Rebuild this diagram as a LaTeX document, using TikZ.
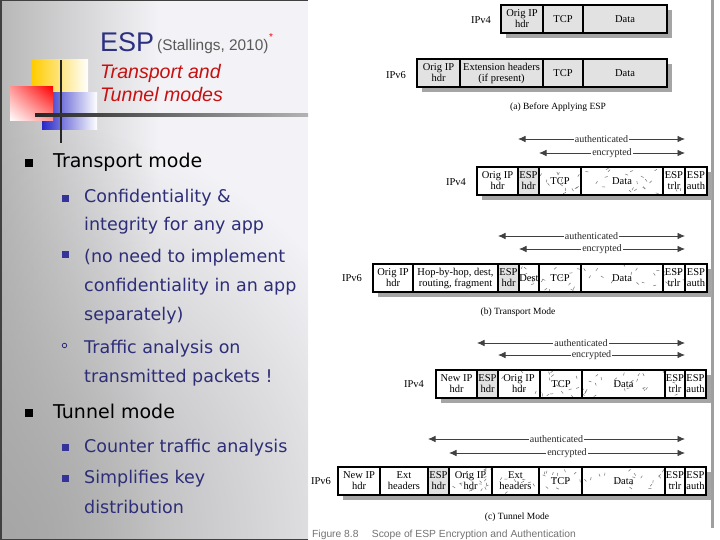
\documentclass[tikz,border=0pt]{standalone}
\usepackage{fontspec}
\setmainfont{Liberation Serif}
\newfontfamily\arialf{Liberation Sans}
\newfontfamily\bodyf{DejaVu Sans}
\usetikzlibrary{arrows.meta,fadings,shadings}

\definecolor{titleblue}{RGB}{43,48,128}
\definecolor{subred}{RGB}{200,16,16}
\definecolor{navy}{RGB}{45,45,120}
\definecolor{bullblue}{RGB}{51,51,153}
\definecolor{cellgray}{RGB}{226,226,226}
\definecolor{shadowgray}{RGB}{165,165,165}
\definecolor{panelbg}{RGB}{243,243,247}
\definecolor{decoyellow}{RGB}{255,204,0}
\definecolor{decoblue}{RGB}{40,40,200}
\definecolor{decored}{RGB}{255,0,0}

\tikzfading[name=cornerfade, inner color=transparent!0, outer color=transparent!100]

\tikzset{
 lvlone/.style={anchor=base west, inner sep=0pt, font=\bodyf\fontsize{19}{22}\selectfont, text=black},
 lvltwo/.style={anchor=base west, inner sep=0pt, font=\bodyf\fontsize{17.5}{20}\selectfont, text=navy},
 bulone/.style={fill=black, minimum size=8pt, inner sep=0pt},
 bultwo/.style={fill=bullblue, minimum size=7pt, inner sep=0pt},
 bulring/.style={draw=navy, circle, line width=0.8pt, minimum size=4.5pt, inner sep=0pt},
 cell/.style={draw=black, line width=1.9pt, inner sep=0pt, align=center, font=\fontsize{10.5}{11}\selectfont},
 iplbl/.style={font=\fontsize{10.5}{12}\selectfont, inner sep=0pt},
 capt/.style={font=\fontsize{9.5}{11}\selectfont, inner sep=0pt},
 scopearr/.style={draw=black!75, line width=0.8pt, {Latex[length=7.5pt,width=6.5pt]}-{Latex[length=7.5pt,width=6.5pt]}},
 arrlbl/.style={fill=white, inner sep=1pt, font=\fontsize{10}{11}\selectfont, text=black!85},
 stip/.style={draw=black!55, line width=0.5pt},
}

\newcommand\pcell[6]{%
  \pgfmathsetmacro\pcw{#3-#2}%
  \pgfmathsetmacro\pcx{(#2+#3)/2}%
  \pgfmathsetmacro\pcy{#4+14}%
  \node[cell,#5,minimum width=\pcw pt,minimum height=28pt] (#1) at (\pcx,\pcy) {#6};}

\newcommand\stipple[4]{%
  \begin{scope}
  \clip (#1,#3) rectangle (#2,#3+28);
  \foreach \k in {1,...,#4}{%
    \pgfmathsetmacro\stx{#1+2+rnd*(#2-#1-4)}%
    \pgfmathsetmacro\sty{#3+2+rnd*24}%
    \pgfmathsetmacro\sta{rnd*360}%
    \draw[stip] (\stx,\sty) -- ++(\sta:3);
  }
  \end{scope}}

\newcommand\rowbg[3]{%
  \fill[shadowgray] (#1+5,#3+5) rectangle (#2+5,#3+33);
  \fill[white] (#1,#3) rectangle (#2,#3+28);}

\begin{document}
\begin{tikzpicture}[x=1pt,y=-1pt]
\pgfmathsetseed{7}
\useasboundingbox (0,0) rectangle (720,540);
\fill[white] (0,0) rectangle (720,540);

% left panel background
\fill[panelbg] (0,0) rectangle (308,540);
\shade[left color=black!28, right color=panelbg] (0,0) rectangle (160,540);
\begin{scope}
  \clip (0,0) rectangle (308,540);
  \fill[black!35, path fading=cornerfade] (0,540) circle (420);
\end{scope}
\draw[black!75, line width=1.5pt] (308,0.75) -- (0.75,0.75) -- (0.75,539.25) -- (308,539.25);

% right bar
\fill[gray!75] (711,0) rectangle (714,528);

% decoration
\shade[left color=decoyellow, middle color=decoyellow, right color=white] (32,60) rectangle (88,93);
\shade[left color=decoblue, middle color=decoblue, right color=white] (42,93) rectangle (97,130);
\shade[upper right=decored, upper left=decored!40!white, lower right=decored!40!white, lower left=white] (10,87) rectangle (53,121);
\draw[black!85, line width=2.5pt] (61,60) -- (61,143);
\shade[left color=black!85, right color=gray!60] (35,113.5) rectangle (308,116.5);

% title
\node[anchor=base west, inner sep=0pt, font=\arialf\fontsize{27}{27}\selectfont, text=titleblue] (esp) at (100,52) {ESP};
\node[anchor=base west, inner sep=0pt, font=\arialf\fontsize{15.4}{16}\selectfont, text=black!65] (cite) at (157,51) {(Stallings, 2010)};
\node[anchor=base west, inner sep=0pt, font=\arialf\fontsize{10}{10}\selectfont, text=red] (star) at (269,41) {*};
\node[anchor=base west, inner sep=0pt, font=\arialf\itshape\fontsize{19.6}{20}\selectfont, text=subred] (sub1) at (100,79) {Transport and};
\node[anchor=base west, inner sep=0pt, font=\arialf\itshape\fontsize{19.6}{20}\selectfont, text=subred] (sub2) at (100,102) {Tunnel modes};

% bullets
\node[bulone] (bu1) at (29,163) {};
\node[lvlone] (t1) at (53,168) {Transport mode};
\node[bultwo] (bu2) at (65.5,199) {};
\node[lvltwo] (t2a) at (84,203) {Confidentiality \&};
\node[lvltwo] (t2b) at (84,230.5) {integrity for any app};
\node[bultwo] (bu3) at (65.5,254) {};
\node[lvltwo] (t3a) at (84,262.5) {(no need to implement};
\node[lvltwo] (t3b) at (84,291.5) {confidentiality in an app};
\node[lvltwo] (t3c) at (84,320) {separately)};
\node[bulring] (bu4) at (64.5,345.5) {};
\node[lvltwo] (t4a) at (84,353) {Traffic analysis on};
\node[lvltwo] (t4b) at (84,382) {transmitted packets !};
\node[bulone] (bu5) at (29,413) {};
\node[lvlone] (t5) at (53,418) {Tunnel mode};
\node[bultwo] (bu6) at (65.5,447) {};
\node[lvltwo] (t6) at (84,452.5) {Counter traffic analysis};
\node[bultwo] (bu7) at (65.5,478) {};
\node[lvltwo] (t7a) at (84,483) {Simplifies key};
\node[lvltwo] (t7b) at (84,513) {distribution};

% ---------- (a) before applying ESP
\rowbg{501}{667}{5}
\pcell{a4c1}{501}{543}{5}{fill=cellgray}{Orig IP\\hdr}
\pcell{a4c2}{543}{583}{5}{fill=cellgray}{TCP}
\pcell{a4c3}{583}{667}{5}{fill=cellgray}{Data}
\node[iplbl] (a4l) at (481,20) {IPv4};

\rowbg{417}{667}{59}
\pcell{a6c1}{417}{460}{59}{fill=cellgray}{Orig IP\\hdr}
\pcell{a6c2}{460}{543}{59}{fill=cellgray}{Extension headers\\(if present)}
\pcell{a6c3}{543}{583}{59}{fill=cellgray}{TCP}
\pcell{a6c4}{583}{667}{59}{fill=cellgray}{Data}
\node[iplbl] (a6l) at (396,75) {IPv6};
\node[capt] (capa) at (558,107) {(a) Before Applying ESP};

% ---------- (b) transport mode IPv4
\coordinate (b4as) at (518,139); \coordinate (b4ae) at (685,139);
\coordinate (b4es) at (539,153); \coordinate (b4ee) at (685,153);
\draw[scopearr] (b4as) -- (b4ae) node[arrlbl, midway] (b4al) {authenticated};
\draw[scopearr] (b4es) -- (b4ee) node[arrlbl, midway] (b4el) {encrypted};
\rowbg{477}{707}{167}
\stipple{539}{685}{167}{36}
\pcell{b4c1}{477}{518}{167}{}{Orig IP\\hdr}
\pcell{b4c2}{518}{539}{167}{fill=cellgray}{ESP\\hdr}
\pcell{b4c3}{539}{581}{167}{}{TCP}
\pcell{b4c4}{581}{663}{167}{}{Data}
\pcell{b4c5}{663}{685}{167}{}{ESP\\trlr}
\pcell{b4c6}{685}{707}{167}{}{ESP\\auth}
\node[iplbl] (b4l) at (456,182) {IPv4};

% ---------- (b) transport mode IPv6
\coordinate (b6as) at (498,236); \coordinate (b6ae) at (685,236);
\coordinate (b6es) at (519,249); \coordinate (b6ee) at (685,249);
\draw[scopearr] (b6as) -- (b6ae) node[arrlbl, midway] (b6al) {authenticated};
\draw[scopearr] (b6es) -- (b6ee) node[arrlbl, midway] (b6el) {encrypted};
\rowbg{373}{707}{264}
\stipple{519}{685}{264}{40}
\pcell{b6c1}{373}{413}{264}{}{Orig IP\\hdr}
\pcell{b6c2}{413}{498}{264}{}{Hop-by-hop, dest,\\routing, fragment}
\pcell{b6c3}{498}{519}{264}{fill=cellgray}{ESP\\hdr}
\pcell{b6c4}{519}{539}{264}{}{Dest}
\pcell{b6c5}{539}{581}{264}{}{TCP}
\pcell{b6c6}{581}{663}{264}{}{Data}
\pcell{b6c7}{663}{685}{264}{}{ESP\\trlr}
\pcell{b6c8}{685}{707}{264}{}{ESP\\auth}
\node[iplbl] (b6l) at (352,278) {IPv6};
\node[capt] (capb) at (518,312) {(b) Transport Mode};

% ---------- (c) tunnel mode IPv4
\coordinate (c4as) at (477,343); \coordinate (c4ae) at (685,343);
\coordinate (c4es) at (498,355); \coordinate (c4ee) at (685,355);
\draw[scopearr] (c4as) -- (c4ae) node[arrlbl, midway] (c4al) {authenticated};
\draw[scopearr] (c4es) -- (c4ee) node[arrlbl, midway] (c4el) {encrypted};
\rowbg{436}{706}{370}
\stipple{498}{685}{370}{46}
\pcell{c4c1}{436}{477}{370}{}{New IP\\hdr}
\pcell{c4c2}{477}{498}{370}{fill=cellgray}{ESP\\hdr}
\pcell{c4c3}{498}{540}{370}{}{Orig IP\\hdr}
\pcell{c4c4}{540}{582}{370}{}{TCP}
\pcell{c4c5}{582}{665}{370}{}{Data}
\pcell{c4c6}{665}{685}{370}{}{ESP\\trlr}
\pcell{c4c7}{685}{706}{370}{}{ESP\\auth}
\node[iplbl] (c4l) at (414,384) {IPv4};

% ---------- (c) tunnel mode IPv6
\coordinate (c6as) at (428,439); \coordinate (c6ae) at (685,439);
\coordinate (c6es) at (449,453); \coordinate (c6ee) at (685,453);
\draw[scopearr] (c6as) -- (c6ae) node[arrlbl, midway] (c6al) {authenticated};
\draw[scopearr] (c6es) -- (c6ee) node[arrlbl, midway] (c6el) {encrypted};
\rowbg{338}{706}{467}
\stipple{449}{685}{467}{58}
\pcell{c6c1}{338}{380}{467}{}{New IP\\hdr}
\pcell{c6c2}{380}{428}{467}{}{Ext\\headers}
\pcell{c6c3}{428}{449}{467}{fill=cellgray}{ESP\\hdr}
\pcell{c6c4}{449}{492}{467}{}{Orig IP\\hdr}
\pcell{c6c5}{492}{539}{467}{}{Ext\\headers}
\pcell{c6c6}{539}{582}{467}{}{TCP}
\pcell{c6c7}{582}{665}{467}{}{Data}
\pcell{c6c8}{665}{685}{467}{}{ESP\\trlr}
\pcell{c6c9}{685}{706}{467}{}{ESP\\auth}
\node[iplbl] (c6l) at (321,481) {IPv6};
\node[capt] (capc) at (517,517) {(c) Tunnel Mode};

\node[anchor=base west, inner sep=0pt, font=\arialf\fontsize{10.3}{11}\selectfont, text=black!55] (figcap) at (312,537) {Figure 8.8\hspace{1.3em}Scope of ESP Encryption and Authentication};
\end{tikzpicture}
\end{document}
